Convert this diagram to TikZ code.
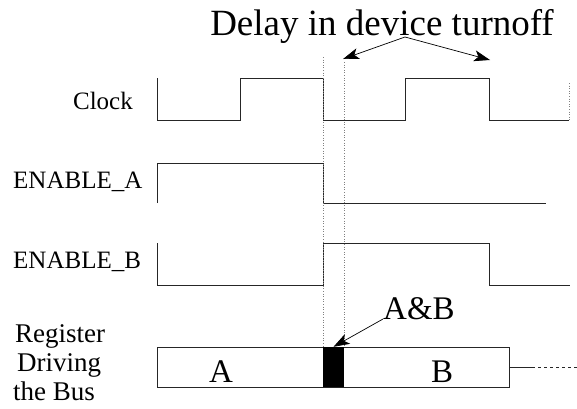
\documentclass[tikz,border=0pt]{standalone}
\usepackage{fontspec}
\setmainfont{Liberation Serif}
\usetikzlibrary{arrows.meta}
\newcommand{\fsz}[1]{\fontsize{#1}{#1}\selectfont}

\begin{document}
\begin{tikzpicture}[
    x=1pt, y=-1pt,
    >={Stealth[length=16pt,width=11pt,inset=4pt]},
    every node/.style={inner sep=0pt},
    wave/.style={draw=black!85, line width=0.8pt},
    guide/.style={draw=black!50, dotted, line width=0.6pt},
    siglabel/.style={font=\fsz{25}},
    buslabel/.style={font=\fsz{27}, anchor=base west},
    busvalue/.style={font=\fsz{33}, anchor=base}
]
    \useasboundingbox (0,0) rectangle (577,408);

    % labels
    \node[font=\fsz{37}, anchor=base] (title) at (382,35) {Delay in device turnoff};
    \node[siglabel, anchor=base east] (clk) at (133,109) {Clock};
    \node[siglabel, anchor=base west] (ena) at (13,188) {ENABLE\_A};
    \node[siglabel, anchor=base west] (enb) at (13,268) {ENABLE\_B};
    \node[buslabel] (reg1) at (15,342) {Register};
    \node[buslabel] (reg2) at (17,371) {Driving};
    \node[buslabel] (reg3) at (13,400) {the Bus};

    % waveforms
    \draw[wave] (157,78) -- (157,120) -- (240,120) -- (240,78) -- (323,78) -- (323,120)
        -- (405,120) -- (405,78) -- (489,78) -- (489,120) -- (569,120);
    \draw[guide] (569,83) -- (569,120);
    \draw[wave] (157,203) -- (157,163) -- (323,163) -- (323,203) -- (546,203);
    \draw[wave] (157,243) -- (157,285) -- (323,285) -- (323,243) -- (489,243) -- (489,285) -- (570,285);

    % bus
    \draw[wave] (157,347) rectangle (509,387);
    \node[fill=black, minimum width=21pt, minimum height=40pt] (overlap) at (333.5,367) {};
    \node[busvalue] (busa) at (221,382) {A};
    \node[busvalue] (busb) at (442,382) {B};
    \draw[wave] (509,367) -- (532,367);
    \draw[wave, dashed] (532,367) -- (577,367);

    % turnoff delay
    \draw[guide] (323,57) -- (323,347);
    \draw[guide] (344,62) -- (344,347);
    \coordinate (apex) at (405,37);
    \coordinate (tipl) at (343,59);
    \coordinate (tipr) at (490,60);
    \draw[->, line width=0.7pt] (apex) -- (tipl);
    \draw[->, line width=0.7pt] (apex) -- (tipr);

    \node[font=\fsz{33}, anchor=base west] (ab) at (383,319) {A\&B};
    \draw[->, line width=0.7pt] (ab.base west) -- (overlap.north);
\end{tikzpicture}
\end{document}
